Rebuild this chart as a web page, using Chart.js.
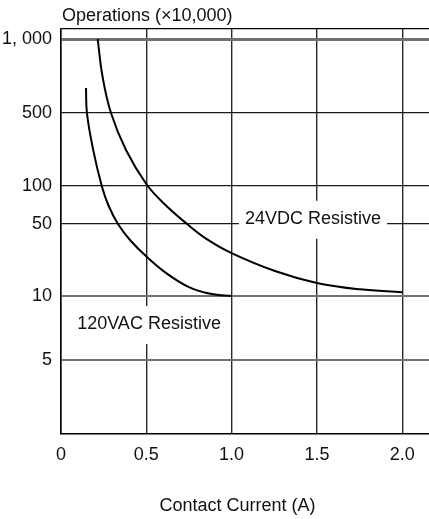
<!DOCTYPE html>
<html>
<head>
<meta charset="utf-8">
<script src="https://cdn.jsdelivr.net/npm/chart.js@4/dist/chart.umd.min.js"></script>
<style>
  html, body { margin: 0; padding: 0; background: #fff; }
  #wrap { width: 429px; height: 519px; position: relative; }
</style>
</head>
<body>
<div id="wrap"><canvas id="c" width="429" height="519"></canvas></div>
<script>
// ---- data ----
const xTicks = [0, 0.5, 1.0, 1.5, 2.0];
const xTickLabels = ['0', '0.5', '1.0', '1.5', '2.0'];
const yTicks = [5, 10, 50, 100, 500, 1000];
const yTickLabels = ['5', '10', '50', '100', '500', '1, 000'];

const dc24Current = [0.215, 0.243, 0.293, 0.381, 0.500, 0.606, 0.739, 0.850, 1.000, 1.254, 1.500, 1.753, 2.000];
const dc24Ops     = [1000, 707, 500, 221, 104.5, 72, 50, 36.1, 26.1, 17.5, 13.4, 11.6, 10.9];

const ac120Current = [0.1465, 0.152, 0.188, 0.239, 0.277, 0.334, 0.407, 0.504, 0.627, 0.750, 0.876, 1.002];
const ac120Ops     = [632, 500, 224, 100, 70.7, 50, 34.6, 23.9, 16.2, 12.2, 10.5, 10];

const seriesNames = ['24VDC Resistive', '120VAC Resistive'];
const yTitle = 'Operations (×10,000)';
const xTitle = 'Contact Current (A)';

// ---- non-uniform axis: tick spacing of the original chart (units along axis) ----
const SEG = [[1, 0], [5, 74], [10, 138], [50, 210], [100, 248], [500, 321], [1000, 395], [1200, 405]];
const SEG_LEN = 405;

function segFrac(v) {
  let i = 0;
  while (i < SEG.length - 2 && v > SEG[i + 1][0]) i++;
  const [v1, p1] = SEG[i], [v2, p2] = SEG[i + 1];
  const t = (Math.log10(v) - Math.log10(v1)) / (Math.log10(v2) - Math.log10(v1));
  return (p1 + t * (p2 - p1)) / SEG_LEN;
}
function segValue(frac) {
  const p = frac * SEG_LEN;
  let i = 0;
  while (i < SEG.length - 2 && p > SEG[i + 1][1]) i++;
  const [v1, p1] = SEG[i], [v2, p2] = SEG[i + 1];
  const t = (p - p1) / (p2 - p1);
  return Math.pow(10, Math.log10(v1) + t * (Math.log10(v2) - Math.log10(v1)));
}

class SegLogScale extends Chart.LinearScale {
  buildTicks() {
    return [1, ...yTicks, 1200].map(v => ({ value: v }));
  }
  getPixelForValue(value) {
    return this.getPixelForDecimal(segFrac(value));
  }
  getValueForPixel(pixel) {
    return segValue(this.getDecimalForPixel(pixel));
  }
}
SegLogScale.id = 'seglog';
SegLogScale.defaults = Chart.LinearScale.defaults;
Chart.register(SegLogScale);

Chart.defaults.font.family = '"Liberation Sans", Arial, sans-serif';
Chart.defaults.font.size = 18;
Chart.defaults.color = '#111';

const labelPlacement = [
  { text: seriesNames[0], x: 1.477, y: 54, w: 148, h: 38 },
  { text: seriesNames[1], x: 0.516, y: 7.3, w: 157, h: 38 }
];

const decor = {
  id: 'decor',
  afterDraw(chart) {
    const ctx = chart.ctx;
    const xs = chart.scales.x, ys = chart.scales.y;
    ctx.save();
    ctx.font = '18px "Liberation Sans", Arial, sans-serif';
    ctx.fillStyle = '#111';
    ctx.textBaseline = 'alphabetic';
    ctx.textAlign = 'left';
    ctx.fillText(yTitle, 62, 21);
    ctx.textAlign = 'center';
    ctx.fillText(xTitle, 237.5, 511);
    labelPlacement.forEach(l => {
      const cx = xs.getPixelForValue(l.x), cy = ys.getPixelForValue(l.y);
      ctx.fillStyle = '#fff';
      ctx.fillRect(cx - l.w / 2, cy - l.h / 2, l.w, l.h);
      ctx.fillStyle = '#111';
      ctx.textBaseline = 'middle';
      ctx.fillText(l.text, cx, cy - 1);
    });
    ctx.restore();
  }
};

function yGridColor(ctx) {
  const v = ctx.tick && ctx.tick.value;
  if (v === 1) return 'rgba(0,0,0,0)';
  if (v === 1200) return '#000';
  if (v === 1000 || v === 10 || v === 5) return '#707070';
  return '#1a1a1a';
}
function yGridWidth(ctx) {
  const v = ctx.tick && ctx.tick.value;
  if (v === 1000) return 3;
  if (v === 10 || v === 5) return 2;
  return 1.3;
}

new Chart(document.getElementById('c'), {
  type: 'line',
  data: {
    datasets: [
      {
        label: seriesNames[0],
        data: dc24Current.map((x, i) => ({ x, y: dc24Ops[i] })),
        borderColor: '#000', borderWidth: 2, pointRadius: 0,
        tension: 0.4, fill: false
      },
      {
        label: seriesNames[1],
        data: ac120Current.map((x, i) => ({ x, y: ac120Ops[i] })),
        borderColor: '#000', borderWidth: 2, pointRadius: 0,
        tension: 0.4, fill: false
      }
    ]
  },
  options: {
    responsive: false,
    animation: false,
    events: [],
    layout: { padding: { top: 29, left: 0, right: 0, bottom: 0 } },
    plugins: { legend: { display: false }, tooltip: { enabled: false }, title: { display: false } },
    scales: {
      x: {
        type: 'linear',
        min: 0, max: 2.157,
        afterBuildTicks: s => { s.ticks = xTicks.map(v => ({ value: v })); },
        afterFit: s => { s.height = 85; },
        ticks: {
          autoSkip: false, maxRotation: 0, padding: 10,
          callback: (v, i) => xTickLabels[i]
        },
        grid: { color: '#2a2a2a', lineWidth: 1.4, drawTicks: false },
        border: { display: true, color: '#000', width: 1.5 }
      },
      y: {
        type: 'seglog',
        min: 1, max: 1200,
        afterFit: s => { s.width = 61; },
        ticks: {
          autoSkip: false, padding: 9,
          callback: function (v) {
            const i = yTicks.indexOf(v);
            return i >= 0 ? yTickLabels[i] : '';
          }
        },
        grid: { color: yGridColor, lineWidth: yGridWidth, drawTicks: false },
        border: { display: true, color: '#000', width: 1.5 }
      }
    }
  },
  plugins: [decor]
});
</script>
</body>
</html>
